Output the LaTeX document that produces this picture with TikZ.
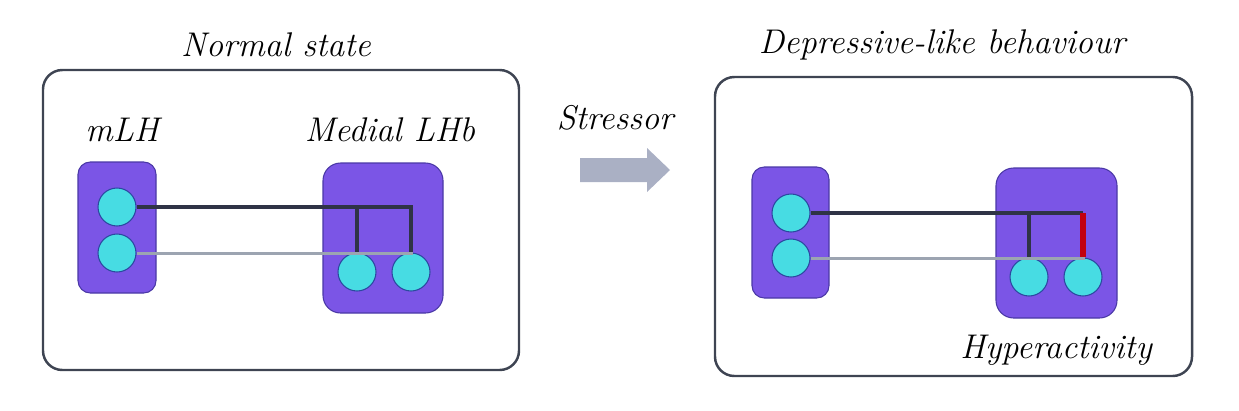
\documentclass[tikz,border=0pt]{standalone}
\usepackage{tikz}
\usetikzlibrary{positioning}
\definecolor{panelgray}{HTML}{3E4452}
\definecolor{regionfill}{HTML}{7B55E6}
\definecolor{regionedge}{HTML}{4A38A6}
\definecolor{neuronfill}{HTML}{47DCE3}
\definecolor{neuronedge}{HTML}{2C48A0}
\definecolor{fibredark}{HTML}{2F3346}
\definecolor{fibrelight}{HTML}{9CA4B1}
\definecolor{hyperred}{HTML}{C2000F}
\definecolor{arrowgray}{HTML}{AAB0C4}
\tikzset{
  panel/.style={draw=panelgray, line width=1.4pt, rounded corners=11pt},
  region/.style={draw=regionedge, fill=regionfill, line width=0.6pt},
  neuron/.style={circle, draw=neuronedge, fill=neuronfill, line width=0.6pt,
    minimum size=0.76cm, inner sep=0pt},
  darkfibre/.style={draw=fibredark, line width=2pt},
  lightfibre/.style={draw=fibrelight, line width=1.7pt},
  hyperfibre/.style={draw=hyperred, line width=3.2pt},
  handtext/.style={font=\fontsize{19.5}{23}\selectfont\itshape}
}
\begin{document}
\begin{tikzpicture}[x=0.02cm, y=-0.02cm]
  \useasboundingbox (0,0) rectangle (1239,410);

  % Normal state
  \draw[panel] (43,70) rectangle (519,370);
  \node[handtext] (normal) at (276,45) {Normal state};
  \node[handtext] (mlh) at (122,130) {mLH};
  \node[handtext] (lhb) at (390,130) {Medial LHb};
  \draw[region, rounded corners=7pt] (78,162) rectangle (156,293);
  \draw[region, rounded corners=10pt] (323,163) rectangle (443,313);

  \node[neuron] (a1) at (117,207) {};
  \node[neuron] (a2) at (117,253) {};
  \node[neuron] (b1) at (357,272) {};
  \node[neuron] (b2) at (411,272) {};

  \draw[lightfibre] (a2.east) -- (a2.east -| b2.north) -- (b2.north);
  \draw[lightfibre] (a2.east -| b1.north) -- (b1.north);
  \draw[darkfibre] (a1.east) -- (a1.east -| b2.north) -- (b2.north);
  \draw[darkfibre] (a1.east -| b1.north) -- (b1.north);

  % Stressor
  \node[handtext] (stressor) at (615,118) {Stressor};
  \fill[arrowgray] (580,158) -- (647,158) -- (647,148) -- (670,170)
    -- (647,192) -- (647,182) -- (580,182) -- cycle;

  % Depressive-like behaviour
  \draw[panel] (715,77) rectangle (1192,376);
  \node[handtext] (depressive) at (942,45) {Depressive-like behaviour};
  \node[handtext] (hyper) at (1056,350) {Hyperactivity};
  \draw[region, rounded corners=7pt] (752,167) rectangle (829,298);
  \draw[region, rounded corners=10pt] (996,168) rectangle (1117,318);

  \node[neuron] (c1) at (791,213) {};
  \node[neuron] (c2) at (791,258) {};
  \node[neuron] (d1) at (1029,277) {};
  \node[neuron] (d2) at (1083,277) {};

  \draw[lightfibre] (c2.east) -- (c2.east -| d2.north) -- (d2.north);
  \draw[lightfibre] (c2.east -| d1.north) -- (d1.north);
  \draw[darkfibre] (c1.east) -- (c1.east -| d2.north);
  \draw[darkfibre] (c1.east -| d1.north) -- (d1.north);
  \draw[hyperfibre] (c1.east -| d2.north) -- (d2.north);
\end{tikzpicture}
\end{document}
